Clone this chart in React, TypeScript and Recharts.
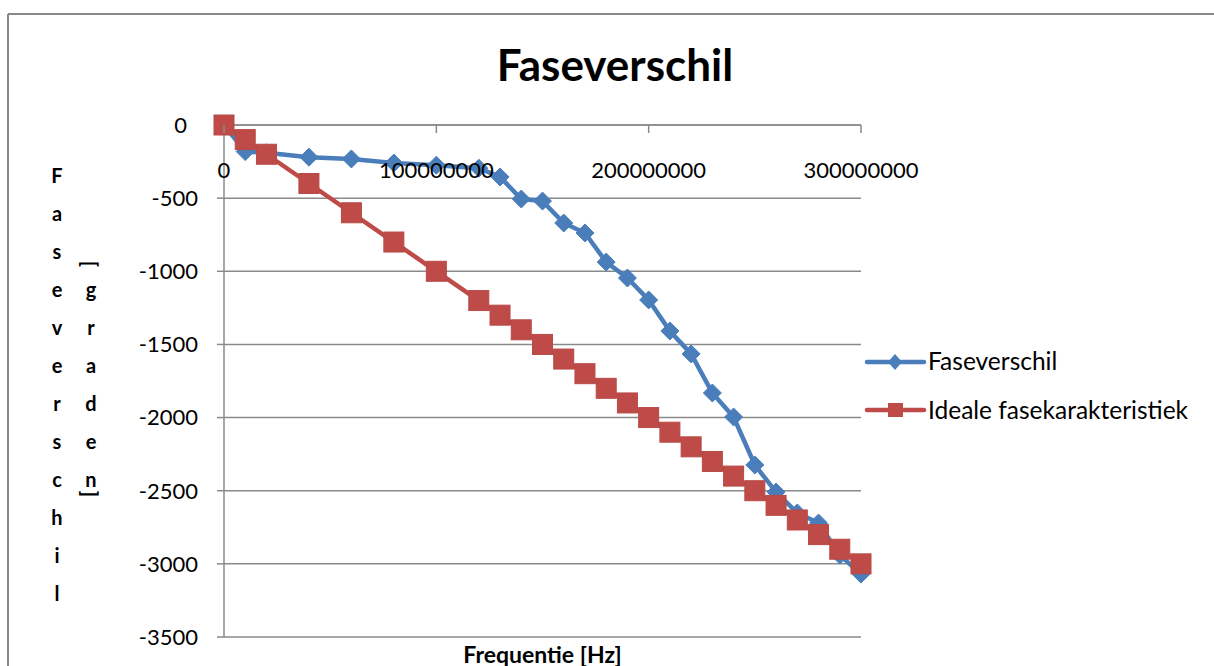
import React from "react";
import { LineChart, Line, XAxis, YAxis, CartesianGrid } from "recharts";

// Measured frequencies (Hz)
const frequencies = [
  0, 10000000, 20000000, 40000000, 60000000, 80000000, 100000000, 120000000,
  130000000, 140000000, 150000000, 160000000, 170000000, 180000000, 190000000,
  200000000, 210000000, 220000000, 230000000, 240000000, 250000000, 260000000,
  270000000, 280000000, 290000000, 300000000,
];

// Measured phase difference (degrees)
const faseverschil = [
  0, -182, -190, -220, -232, -260, -275, -295, -355, -506, -520, -670, -738,
  -937, -1046, -1196, -1408, -1565, -1832, -1996, -2324, -2509, -2652, -2721,
  -2940, -3070,
];

// Ideal linear phase characteristic (degrees)
const ideaal = [
  0, -100, -200, -400, -600, -800, -1000, -1200, -1300, -1400, -1500, -1600,
  -1700, -1800, -1900, -2000, -2100, -2200, -2300, -2400, -2500, -2600, -2700,
  -2800, -2900, -3000,
];

const xTicks = [0, 100000000, 200000000, 300000000];
const yTicks = [0, -500, -1000, -1500, -2000, -2500, -3000, -3500];

const seriesNames = ["Faseverschil", "Ideale fasekarakteristiek"];
const titleText = "Faseverschil";
const xLabel = "Frequentie [Hz]";
const yLabelMain = "Faseverschil";
const yLabelUnit = "graden";

const rows = frequencies.map((f, i) => ({
  freq: f,
  fase: faseverschil[i],
  ideaal: ideaal[i],
}));

const W = 1214;
const H = 666;
const PLOT_LEFT = 224;
const PLOT_TOP = 125;
const PLOT_RIGHT = 861;
const PLOT_BOTTOM = 637;
const Y_AXIS_W = 74;
const X_AXIS_H = 1;

const BLUE = "#4A7EBB";
const RED = "#BE4B48";
const GRID = "#8A8A8A";
const FONT = "Lato, 'Open Sans', sans-serif";

const renderXTick = (props: any) => {
  const { x, payload, index } = props;
  return (
    <g key={`xt-${index}`}>
      <line x1={x} x2={x} y1={PLOT_TOP} y2={PLOT_TOP + 8} stroke={GRID} strokeWidth={1.5} />
      <text x={x} y={PLOT_TOP + 53} textAnchor="middle" fill="#000" fontSize={22} fontFamily={FONT}>
        {String(payload.value)}
      </text>
    </g>
  );
};

const renderYTick = (props: any) => {
  const { x, y, payload, index } = props;
  // the zero label sits a little further from the axis
  const shift = payload.value === 0 ? 11 : 0;
  return (
    <text
      key={`yt-${index}`}
      x={x - shift}
      y={y}
      dy="0.355em"
      textAnchor="end"
      fill="#000"
      fontSize={22}
      fontFamily={FONT}
    >
      {String(payload.value)}
    </text>
  );
};

const Diamond = (props: any) => {
  const { cx, cy, index } = props;
  if (cx == null || cy == null) return <g key={`d-${index}`} />;
  const r = 9;
  return (
    <path
      key={`d-${index}`}
      d={`M${cx},${cy - r}L${cx + r},${cy}L${cx},${cy + r}L${cx - r},${cy}Z`}
      fill={BLUE}
      stroke={BLUE}
      strokeWidth={1}
    />
  );
};

const Square = (props: any) => {
  const { cx, cy, index } = props;
  if (cx == null || cy == null) return <g key={`s-${index}`} />;
  const h = 10;
  return <rect key={`s-${index}`} x={cx - h} y={cy - h} width={2 * h} height={2 * h} fill={RED} stroke="#B84A47" strokeWidth={1} />;
};

export default function App() {
  const mainChars = yLabelMain.split("");
  const unitChars = yLabelUnit.split("");
  const lineStep = 38;
  const firstBase = 183;
  const labelSize = 20;

  return (
    <div
      style={{
        position: "fixed",
        left: 0,
        top: 0,
        width: W,
        height: H,
        background: "#fff",
        overflow: "hidden",
      }}
    >
      <LineChart
        width={W}
        height={H}
        data={rows}
        margin={{ top: PLOT_TOP - X_AXIS_H, right: W - PLOT_RIGHT, bottom: H - PLOT_BOTTOM, left: PLOT_LEFT - Y_AXIS_W }}
        style={{ position: "absolute", left: 0, top: 0 }}
      >
        <CartesianGrid vertical={false} stroke={GRID} strokeWidth={1.5} />
        <XAxis
          dataKey="freq"
          type="number"
          orientation="top"
          height={X_AXIS_H}
          domain={[0, 300000000]}
          ticks={xTicks}
          interval={0}
          axisLine={{ stroke: GRID, strokeWidth: 1.5 }}
          tickLine={false}
          tick={renderXTick}
        />
        <YAxis
          type="number"
          width={Y_AXIS_W}
          domain={[-3500, 0]}
          ticks={yTicks}
          interval={0}
          axisLine={{ stroke: GRID, strokeWidth: 1.5 }}
          tickLine={{ stroke: GRID, strokeWidth: 1.5 }}
          tickSize={7}
          tickMargin={19}
          tick={renderYTick}
        />
        <Line
          dataKey="fase"
          name={seriesNames[0]}
          stroke={BLUE}
          strokeWidth={4.5}
          dot={Diamond}
          activeDot={false}
          isAnimationActive={false}
        />
        <Line
          dataKey="ideaal"
          name={seriesNames[1]}
          stroke={RED}
          strokeWidth={4.5}
          dot={Square}
          activeDot={false}
          isAnimationActive={false}
        />
      </LineChart>

      <svg width={W} height={H} style={{ position: "absolute", left: 0, top: 0, pointerEvents: "none" }}>
        {/* chart area frame */}
        <line x1={8} x2={W} y1={14} y2={14} stroke="#878787" strokeWidth={2} />
        <line x1={8} x2={8} y1={14} y2={H} stroke="#878787" strokeWidth={2} />

        {/* title */}
        <text x={615} y={81} textAnchor="middle" fontSize={44} fontWeight={700} fontFamily={FONT} fill="#000">
          {titleText}
        </text>

        {/* x axis title */}
        <text x={(PLOT_LEFT + PLOT_RIGHT) / 2} y={663} textAnchor="middle" fontSize={23} fontWeight={700} fontFamily={FONT} fill="#000">
          {xLabel}
        </text>

        {/* stacked y axis title */}
        {mainChars.map((c, i) => (
          <text key={`m${i}`} x={57} y={firstBase + i * lineStep} textAnchor="middle" fontSize={labelSize} fontWeight={700} fontFamily={FONT} fill="#000">
            {c}
          </text>
        ))}
        <text
          x={0}
          y={0}
          textAnchor="middle"
          dominantBaseline="central"
          fontSize={labelSize}
          fontWeight={700}
          fontFamily={FONT}
          fill="#000"
          transform={`translate(91, 264) rotate(90)`}
        >
          [
        </text>
        {unitChars.map((c, i) => (
          <text key={`u${i}`} x={91} y={firstBase + (i + 3) * lineStep} textAnchor="middle" fontSize={labelSize} fontWeight={700} fontFamily={FONT} fill="#000">
            {c}
          </text>
        ))}
        <text
          x={0}
          y={0}
          textAnchor="middle"
          dominantBaseline="central"
          fontSize={labelSize}
          fontWeight={700}
          fontFamily={FONT}
          fill="#000"
          transform={`translate(91, 494) rotate(90)`}
        >
          ]
        </text>

        {/* legend */}
        <g>
          <line x1={867} x2={924} y1={362} y2={362} stroke={BLUE} strokeWidth={4.5} strokeLinecap="round" />
          <path d="M895,354L902,362L895,370L888,362Z" fill={BLUE} />
          <text x={928} y={370} fontSize={24.5} fontFamily={FONT} fill="#000">
            {seriesNames[0]}
          </text>
          <line x1={867} x2={924} y1={410} y2={410} stroke={RED} strokeWidth={4.5} strokeLinecap="round" />
          <rect x={888} y={403} width={15} height={14} fill={RED} />
          <text x={928} y={419} fontSize={24.5} fontFamily={FONT} fill="#000">
            {seriesNames[1]}
          </text>
        </g>
      </svg>
    </div>
  );
}
